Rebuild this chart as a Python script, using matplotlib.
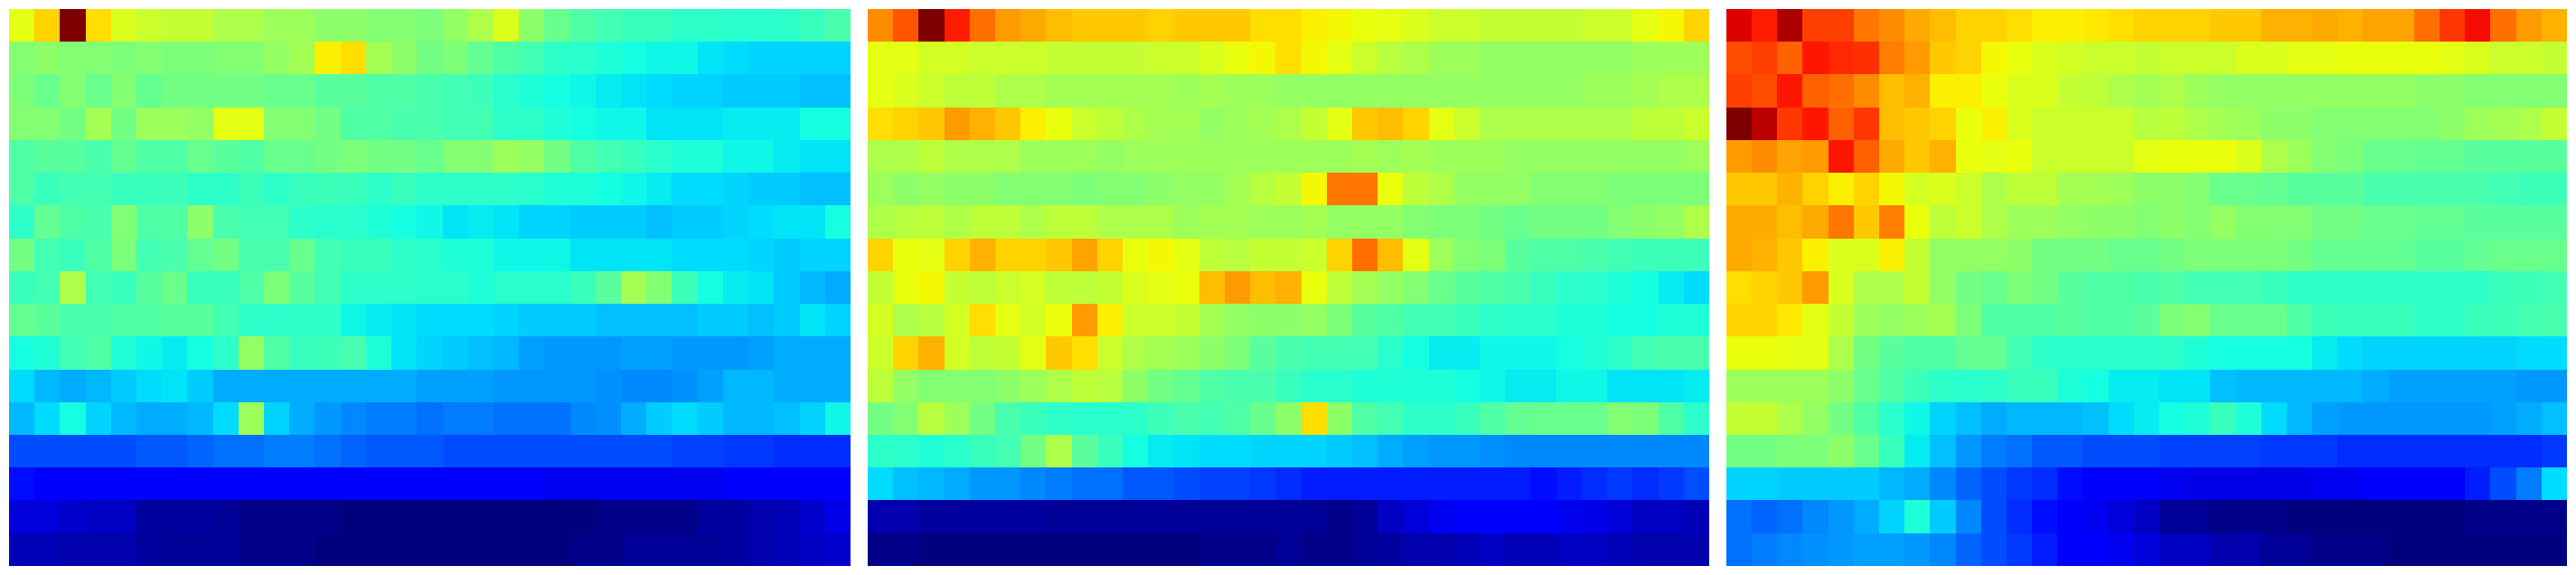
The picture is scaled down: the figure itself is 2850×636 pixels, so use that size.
import numpy as np
import matplotlib
matplotlib.use("Agg")
import matplotlib.pyplot as plt

# Values, on a rough 0-100 reading scale
left_panel = [
    [62, 68, 100, 67, 61, 59, 58, 58, 55, 55, 53, 53, 51, 51, 50, 50, 49, 52, 55, 61, 51, 47, 44, 42, 40, 40, 39, 39, 38, 38, 39, 40, 43],
    [50, 51, 50, 50, 49, 50, 49, 49, 50, 50, 52, 54, 65, 67, 54, 51, 48, 49, 46, 44, 42, 39, 38, 37, 36, 35, 35, 33, 32, 31, 31, 31, 31],
    [49, 47, 50, 47, 50, 46, 48, 48, 48, 48, 47, 47, 45, 45, 44, 44, 43, 42, 41, 38, 37, 36, 35, 34, 33, 32, 31, 31, 30, 30, 30, 29, 29],
    [50, 50, 48, 54, 48, 53, 53, 52, 62, 62, 50, 50, 48, 44, 44, 43, 43, 42, 42, 39, 39, 37, 36, 35, 35, 33, 33, 33, 34, 34, 34, 36, 36],
    [44, 45, 45, 43, 46, 44, 44, 47, 45, 44, 47, 47, 48, 49, 48, 48, 47, 50, 50, 53, 52, 48, 44, 42, 40, 38, 37, 37, 35, 35, 34, 33, 33],
    [44, 40, 42, 42, 40, 40, 41, 39, 39, 41, 39, 40, 41, 40, 39, 40, 39, 39, 39, 39, 38, 37, 37, 36, 35, 34, 32, 32, 31, 30, 30, 29, 29],
    [39, 46, 44, 43, 50, 44, 44, 51, 43, 42, 42, 39, 38, 38, 37, 36, 35, 33, 34, 33, 31, 31, 30, 30, 30, 29, 30, 30, 31, 32, 33, 33, 36],
    [48, 42, 40, 44, 49, 42, 43, 46, 48, 43, 43, 47, 42, 40, 40, 39, 38, 37, 37, 35, 35, 35, 33, 33, 33, 33, 32, 32, 32, 31, 30, 31, 31],
    [40, 42, 55, 42, 40, 45, 47, 40, 40, 44, 49, 45, 42, 39, 39, 39, 38, 38, 37, 38, 38, 38, 40, 45, 54, 50, 41, 36, 34, 33, 30, 28, 27],
    [46, 45, 43, 43, 44, 44, 45, 45, 42, 39, 39, 39, 39, 35, 34, 33, 32, 32, 32, 31, 30, 30, 30, 29, 29, 29, 29, 30, 30, 29, 30, 33, 31],
    [36, 37, 42, 44, 37, 35, 34, 36, 39, 52, 44, 40, 41, 43, 37, 33, 31, 30, 29, 28, 26, 25, 25, 25, 26, 26, 25, 25, 25, 26, 27, 27, 27],
    [32, 28, 27, 28, 30, 32, 33, 30, 27, 27, 27, 27, 27, 27, 27, 27, 26, 26, 26, 25, 25, 25, 25, 24, 23, 23, 24, 26, 28, 28, 27, 27, 27],
    [28, 32, 36, 31, 28, 27, 27, 28, 32, 53, 31, 27, 25, 23, 22, 22, 21, 22, 22, 21, 21, 21, 23, 24, 27, 30, 32, 30, 28, 28, 29, 31, 35],
    [18, 18, 18, 18, 18, 19, 19, 20, 21, 21, 22, 22, 21, 20, 19, 19, 19, 18, 18, 18, 18, 18, 18, 18, 18, 18, 17, 17, 16, 16, 15, 15, 15],
    [13, 12, 11, 11, 11, 11, 11, 11, 11, 11, 11, 11, 11, 11, 11, 11, 11, 11, 11, 11, 11, 10, 10, 10, 10, 10, 10, 10, 11, 11, 11, 11, 12],
    [8, 8, 7, 6, 6, 3, 3, 3, 2, 1, 1, 1, 1, 0, 0, 0, 0, 0, 0, 0, 0, 0, 0, 1, 1, 1, 1, 3, 3, 4, 5, 7, 9],
    [5, 5, 4, 4, 4, 3, 2, 2, 2, 1, 1, 1, 0, 0, 0, 0, 0, 0, 0, 0, 0, 0, 1, 1, 2, 2, 2, 2, 3, 4, 5, 6, 7],
]

middle_panel = [
    [75, 80, 100, 87, 78, 74, 72, 70, 69, 69, 69, 68, 69, 69, 69, 67, 67, 65, 64, 63, 62, 61, 59, 59, 58, 58, 58, 58, 59, 59, 62, 64, 68],
    [62, 62, 60, 60, 59, 59, 59, 58, 58, 58, 58, 59, 59, 61, 63, 64, 67, 64, 62, 59, 56, 55, 53, 53, 52, 52, 52, 52, 52, 52, 53, 53, 53],
    [62, 61, 59, 57, 57, 55, 55, 54, 54, 54, 54, 54, 53, 54, 53, 53, 52, 52, 52, 52, 52, 52, 52, 52, 52, 52, 52, 52, 53, 53, 54, 55, 55],
    [67, 68, 69, 74, 71, 69, 65, 63, 59, 57, 55, 54, 54, 52, 53, 54, 55, 58, 62, 69, 70, 68, 62, 59, 55, 55, 55, 55, 55, 55, 57, 57, 59],
    [55, 55, 57, 55, 55, 55, 53, 53, 53, 52, 53, 53, 53, 53, 53, 53, 53, 53, 53, 54, 53, 54, 53, 53, 53, 52, 52, 52, 52, 52, 52, 52, 53],
    [53, 51, 52, 51, 51, 50, 50, 50, 49, 50, 50, 51, 52, 52, 54, 56, 58, 64, 77, 77, 63, 57, 55, 52, 52, 52, 50, 50, 50, 49, 49, 49, 49],
    [55, 56, 57, 55, 57, 57, 55, 57, 57, 55, 55, 55, 53, 54, 54, 53, 53, 54, 52, 52, 52, 50, 49, 49, 48, 47, 48, 48, 48, 50, 51, 52, 55],
    [68, 63, 62, 68, 71, 68, 68, 69, 73, 68, 63, 64, 62, 57, 56, 58, 58, 59, 68, 78, 70, 62, 53, 50, 49, 45, 44, 44, 43, 42, 41, 41, 41],
    [58, 63, 64, 58, 57, 59, 60, 57, 57, 58, 61, 62, 63, 70, 74, 70, 71, 63, 57, 54, 52, 50, 47, 45, 44, 43, 40, 39, 38, 37, 36, 34, 32],
    [60, 55, 56, 60, 67, 62, 60, 63, 74, 65, 59, 59, 58, 54, 52, 51, 51, 52, 49, 45, 44, 42, 42, 40, 39, 38, 38, 37, 37, 36, 36, 37, 37],
    [59, 68, 71, 60, 57, 58, 62, 69, 67, 59, 55, 54, 53, 51, 49, 45, 43, 42, 42, 42, 38, 36, 34, 34, 35, 35, 35, 36, 37, 39, 42, 43, 43],
    [57, 52, 50, 50, 50, 51, 53, 55, 57, 56, 51, 48, 46, 44, 43, 43, 40, 38, 38, 37, 37, 37, 37, 36, 35, 34, 34, 35, 35, 33, 33, 33, 34],
    [48, 50, 56, 53, 48, 43, 40, 39, 38, 38, 39, 41, 43, 42, 44, 47, 51, 67, 51, 44, 42, 39, 39, 40, 44, 46, 47, 47, 47, 50, 49, 44, 39],
    [39, 38, 37, 38, 40, 42, 48, 55, 45, 40, 36, 34, 33, 32, 32, 31, 31, 31, 30, 29, 27, 26, 25, 25, 24, 23, 23, 23, 23, 23, 23, 23, 23],
    [32, 29, 28, 27, 25, 25, 23, 22, 21, 21, 19, 19, 18, 17, 17, 16, 15, 14, 14, 14, 14, 14, 14, 14, 14, 14, 13, 14, 15, 16, 15, 16, 18],
    [4, 4, 3, 3, 3, 3, 3, 2, 2, 2, 2, 2, 2, 2, 2, 2, 2, 2, 1, 2, 6, 8, 10, 11, 11, 11, 11, 10, 9, 8, 6, 6, 5],
    [1, 1, 0, 0, 0, 0, 0, 0, 0, 0, 0, 0, 0, 1, 1, 1, 2, 1, 1, 2, 3, 4, 4, 5, 6, 5, 5, 6, 6, 5, 4, 4, 4],
]

right_panel = [
    [92, 87, 96, 83, 83, 77, 75, 72, 70, 68, 68, 67, 65, 65, 66, 67, 68, 68, 68, 69, 69, 71, 71, 72, 71, 73, 73, 78, 84, 89, 78, 74, 71],
    [81, 83, 79, 88, 86, 85, 76, 74, 69, 68, 64, 63, 61, 60, 59, 59, 58, 59, 59, 59, 61, 61, 62, 62, 63, 63, 63, 63, 62, 61, 59, 59, 58],
    [83, 81, 88, 79, 78, 75, 70, 71, 65, 65, 63, 61, 61, 58, 57, 55, 54, 55, 53, 52, 52, 52, 52, 52, 52, 52, 52, 51, 51, 50, 50, 50, 50],
    [100, 95, 84, 88, 79, 84, 70, 69, 68, 63, 65, 61, 59, 59, 59, 59, 56, 57, 55, 54, 53, 51, 51, 50, 50, 50, 50, 50, 51, 53, 54, 55, 58],
    [74, 75, 73, 74, 88, 79, 72, 69, 71, 63, 62, 63, 59, 59, 59, 59, 62, 63, 63, 63, 61, 55, 53, 50, 49, 47, 47, 46, 46, 45, 45, 45, 45],
    [69, 69, 71, 68, 65, 68, 64, 60, 61, 59, 55, 57, 57, 54, 54, 53, 51, 51, 50, 47, 47, 46, 45, 45, 45, 43, 43, 43, 43, 43, 42, 41, 41],
    [72, 72, 70, 72, 77, 69, 76, 63, 57, 59, 55, 53, 53, 52, 51, 51, 50, 51, 50, 52, 50, 50, 50, 48, 48, 47, 47, 46, 46, 45, 45, 45, 45],
    [72, 71, 69, 65, 61, 61, 65, 58, 52, 52, 52, 51, 48, 48, 48, 47, 47, 48, 49, 49, 49, 49, 48, 46, 46, 46, 46, 45, 45, 46, 47, 47, 47],
    [67, 68, 69, 74, 61, 55, 55, 58, 52, 48, 47, 49, 48, 45, 44, 44, 43, 44, 42, 42, 42, 40, 39, 39, 39, 39, 39, 39, 39, 39, 40, 41, 42],
    [68, 68, 66, 62, 58, 53, 52, 53, 54, 49, 44, 44, 44, 45, 44, 44, 45, 49, 50, 47, 47, 47, 44, 41, 40, 40, 40, 39, 39, 40, 41, 42, 43],
    [63, 63, 62, 62, 55, 48, 45, 44, 44, 46, 46, 42, 39, 38, 38, 38, 38, 39, 37, 36, 36, 36, 36, 34, 32, 31, 31, 31, 31, 31, 31, 32, 32],
    [53, 53, 53, 53, 51, 47, 44, 41, 39, 38, 39, 40, 40, 37, 36, 34, 34, 33, 33, 29, 28, 28, 28, 28, 28, 27, 26, 26, 26, 26, 26, 25, 25],
    [58, 58, 55, 52, 48, 44, 38, 35, 31, 29, 27, 28, 28, 28, 29, 32, 34, 36, 37, 40, 37, 32, 28, 26, 25, 25, 25, 25, 25, 25, 26, 27, 29],
    [48, 48, 49, 49, 51, 47, 40, 34, 29, 25, 22, 21, 19, 19, 18, 18, 18, 17, 17, 17, 17, 16, 16, 16, 15, 15, 15, 15, 15, 15, 15, 15, 16],
    [31, 31, 30, 30, 30, 30, 28, 27, 23, 20, 18, 16, 15, 13, 11, 11, 11, 10, 9, 9, 9, 9, 9, 10, 10, 11, 11, 11, 12, 14, 18, 22, 32],
    [21, 20, 21, 23, 25, 27, 31, 37, 30, 23, 18, 15, 13, 11, 10, 8, 6, 2, 2, 1, 1, 1, 0, 0, 0, 0, 0, 0, 0, 1, 1, 1, 1],
    [21, 22, 23, 24, 25, 26, 26, 25, 23, 20, 18, 16, 14, 11, 11, 10, 8, 6, 6, 4, 4, 2, 2, 1, 1, 1, 0, 0, 0, 0, 0, 0, 0],
]

panels = [left_panel, middle_panel, right_panel]

# The readings above were judged by eye, this table lines them up with where
# the same colours really sit on jet (reading -> percent of colormap)
read_scale = [0, 11, 13, 15, 17, 18, 21, 23, 25, 26, 28, 29, 30, 31, 32, 33, 34, 35, 36, 37,
              38, 39, 40, 42, 44, 46, 48, 50, 52, 54, 56, 58, 60, 62, 64, 66, 68, 70, 72, 74,
              76, 78, 80, 83, 85, 88, 89, 92, 95, 96, 100]
jet_scale = [0, 11, 14, 17, 19, 20, 23.5, 26, 27.4, 28.2, 30.5, 31.3, 32.5, 33.3, 34, 34.9, 35.7, 37, 37.8, 38.9,
             40, 40.5, 42, 43, 44.7, 47, 49, 51, 53, 55, 57.2, 58.7, 60.7, 62.7, 64.5, 66.4, 68.5, 71, 73, 74.5,
             77.5, 79, 82, 84.2, 85.7, 88.5, 89.5, 91.7, 94.8, 95.8, 100]

# Axes edges in pixels of the 2850x636 figure
fig_w, fig_h = 2850, 636
lefts = [10, 960, 1910]
ax_w, ax_h = 930, 616
bottom = 10

fig = plt.figure(figsize=(fig_w / 100, fig_h / 100), dpi=100)

for x0, values in zip(lefts, panels):
    ax = fig.add_axes([x0 / fig_w, bottom / fig_h, ax_w / fig_w, ax_h / fig_h])
    cells = np.interp(np.array(values), read_scale, jet_scale)
    ax.imshow(cells, cmap="jet", vmin=0, vmax=100,
              aspect="auto", interpolation="nearest")
    ax.axis("off")

fig.savefig("out.png", dpi=100)
